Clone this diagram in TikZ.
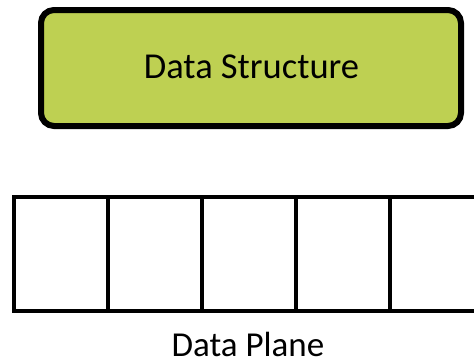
\documentclass[tikz,border=0pt]{standalone}
\usepackage{fontspec}
\setmainfont{Carlito}
\usepackage{tikz}
\definecolor{limebox}{RGB}{190,208,82}

\begin{document}
\begin{tikzpicture}[x=1pt,y=-1pt,font=\fontsize{35}{40}\selectfont]
	\useasboundingbox (0,0) rectangle (474,362);
	\clip (0,0) rectangle (474,362);
	%Struttura
	\node [draw, fill=limebox, line width=6pt, rounded corners=13pt,
		minimum width=420pt, minimum height=116pt, outer sep=0pt] (struct) at (251,68) {};
	\node [anchor=base, inner sep=0pt, font=\fontsize{36.5}{40}\selectfont] (structlabel) at (251.5,78.5) {Data Structure};
	%Celle
	\foreach \i in {0,...,4}
		\node [draw, line width=4pt, minimum width=94pt, minimum height=114pt,
			outer sep=0pt] (cell\i) at (60.5+94*\i,254) {};
	%Etichetta
	\node [anchor=base, inner sep=0pt] (plane) at (248,356) {Data Plane};
\end{tikzpicture}
\end{document}
